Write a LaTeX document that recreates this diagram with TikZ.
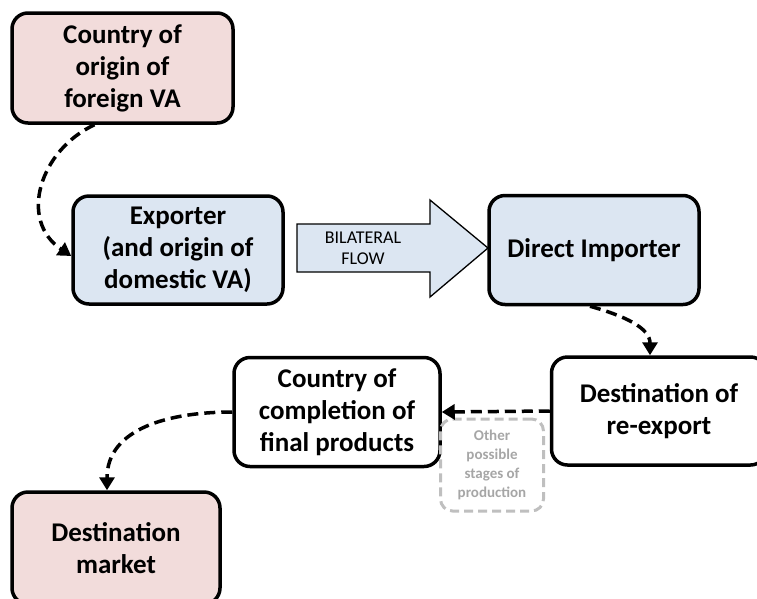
\documentclass[tikz,border=0pt]{standalone}
\usepackage{fontspec}
\setmainfont{Carlito}
\usepackage{tikz}
\usetikzlibrary{calc,shapes,arrows.meta,positioning}
\definecolor{originColor}{RGB}{242, 220, 219}
\definecolor{flowColor}{RGB}{220, 230, 242}
\definecolor{stageColor}{RGB}{191, 191, 191}
\definecolor{stageText}{RGB}{166, 166, 166}

\tikzset{
    country/.style={draw=black, line width=3.5pt, rounded corners=16pt, align=center,
        font=\fontsize{27}{32}\selectfont\bfseries, inner sep=2pt},
    link/.style={line width=3.5pt, dash pattern=on 11pt off 6pt,
        -{Triangle[length=13pt,width=15pt]}},
}

\begin{document}
\begin{tikzpicture}[x=1pt,y=1pt]
            % Page frame
            \useasboundingbox (0,0) rectangle (757,-598);
            \clip (0,0) rectangle (757,-598);

            % Countries
            \node[country, fill=originColor, minimum width=221pt, minimum height=110pt] (origin) at (122.5,-68) {Country of\\origin of\\foreign VA};
            \node[country, fill=flowColor, minimum width=210pt, minimum height=108pt] (exporter) at (178,-250) {Exporter\\(and origin of\\domestic VA)};
            \node[country, fill=flowColor, minimum width=210pt, minimum height=109pt] (importer) at (594,-250) {Direct Importer};
            \node[country, fill=white, minimum width=215pt, minimum height=108pt] (reexport) at (659,-411) {Destination of\\re-export};
            \node[country, fill=white, minimum width=206pt, minimum height=109pt] (completion) at (337,-412) {Country of\\completion of\\final products};
            \node[country, fill=originColor, minimum width=208pt, minimum height=112pt] (market) at (116,-548) {Destination\\market};

            % Other stages
            \node[draw=stageColor, line width=3pt, dash pattern=on 9pt off 5pt, rounded corners=12pt,
                minimum width=103pt, minimum height=92pt, align=center, text=stageText,
                font=\fontsize{15}{19}\selectfont\bfseries] (stages) at (492,-465) {Other\\possible\\stages of\\production};

            % Bilateral flow
            \filldraw[fill=flowColor, draw=black, line width=1.3pt]
                (297,-224) -- (430,-224) -- (430,-200) -- (488,-248) -- (430,-297) -- (430,-272) -- (297,-272) -- cycle;
            \node[align=center, font=\fontsize{18}{21}\selectfont] (flow) at (363,-248) {BILATERAL\\FLOW};

            % Value added links
            \draw[link] ([xshift=-28pt]origin.south) .. controls (40,-150) and (18,-220) .. ([yshift=-6pt]exporter.west);
            \draw[link] ([xshift=-4pt]importer.south) .. controls (625,-316) and (650,-328) .. ([xshift=-9pt]reexport.north);
            \draw[link] (reexport.west) -- (completion.east);
            \draw[link] (completion.west) .. controls (170,-412) and (107,-428) .. ([xshift=-9pt]market.north);
        \end{tikzpicture}
\end{document}
